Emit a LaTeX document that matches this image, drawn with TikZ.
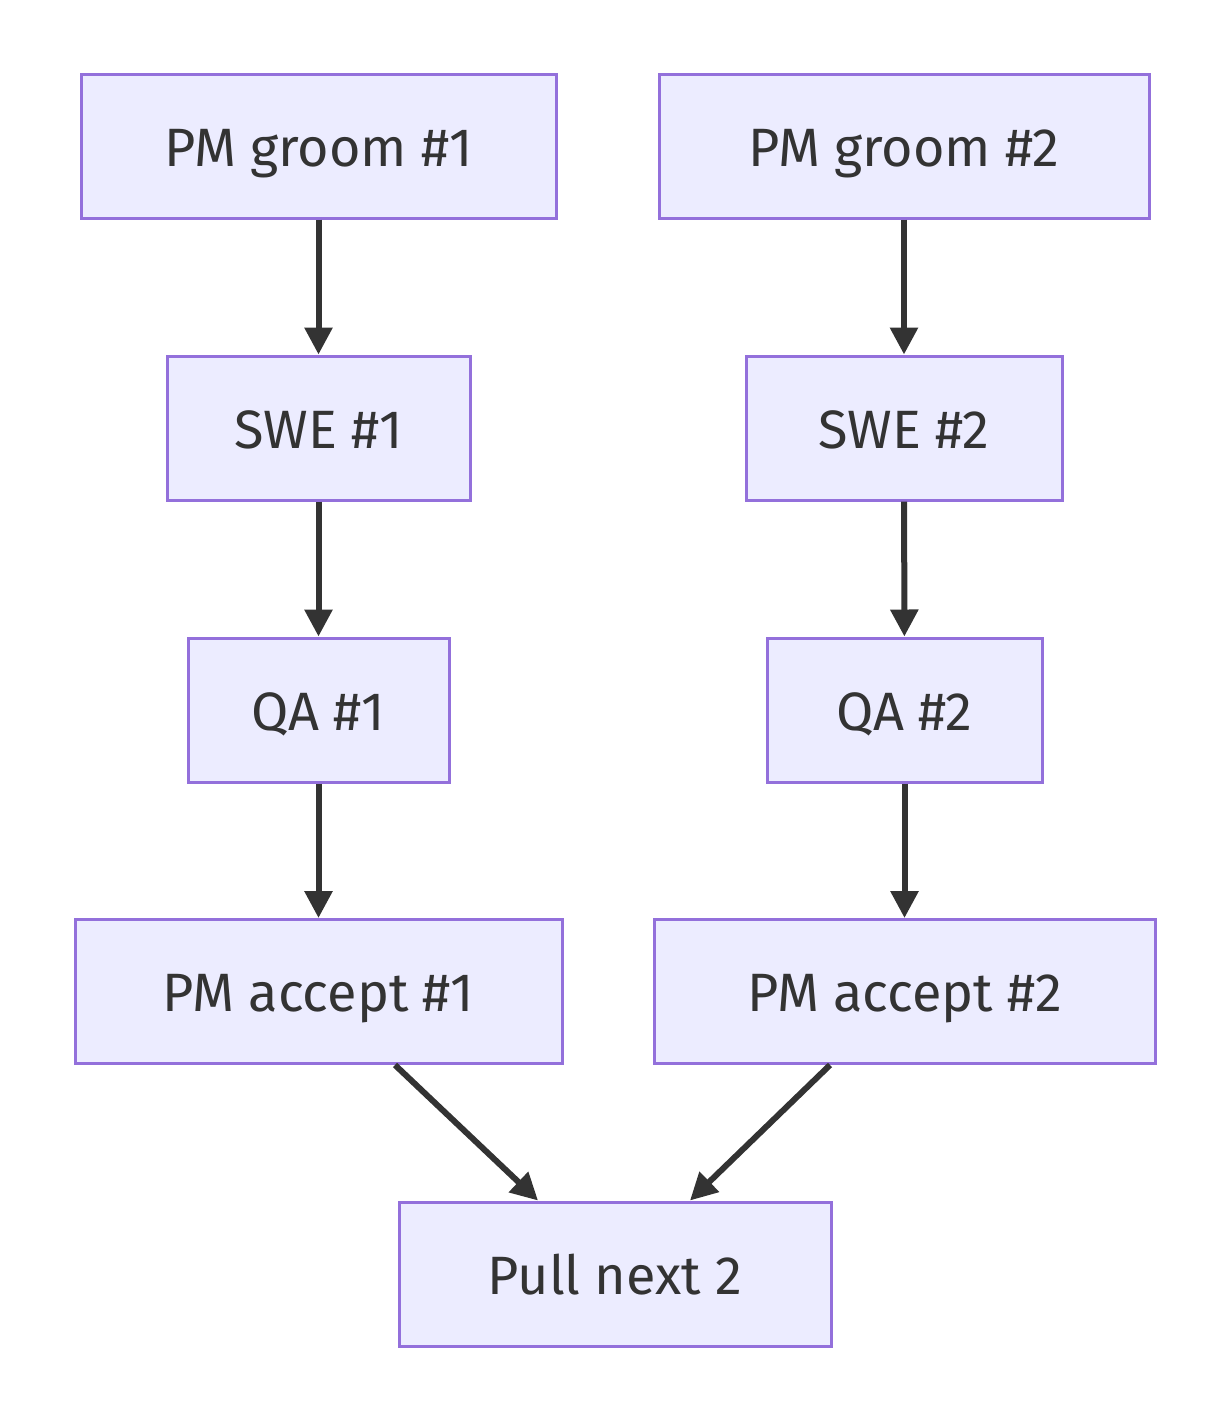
\documentclass[tikz,border=0pt]{standalone}
\usepackage{fontspec}
\setmainfont{Fira Sans}
\usetikzlibrary{arrows.meta}
\definecolor{boxfill}{HTML}{ECECFF}
\definecolor{boxline}{HTML}{9370DB}
\definecolor{ink}{HTML}{333333}
\tikzset{
  flowbox/.style={draw=boxline, fill=boxfill, line width=3pt, inner sep=0pt,
    text=ink, font=\fontsize{54}{60}\selectfont, minimum height=144pt,
    text height=40pt, text depth=0pt, anchor=center},
  flowarrow/.style={draw=ink, line width=6pt, -{Triangle[width=27pt,length=27pt]}, shorten >=0pt}
}
\begin{document}
\begin{tikzpicture}[x=1pt,y=-1pt]
\useasboundingbox (0,0) rectangle (1224,1416);
\node[flowbox, minimum width=475pt] (g1) at (318.5,146) {PM groom \#1};
\node[flowbox, minimum width=490pt] (g2) at (904,146) {PM groom \#2};
\node[flowbox, minimum width=303pt] (s1) at (318.5,428) {SWE \#1};
\node[flowbox, minimum width=316pt] (s2) at (904,428) {SWE \#2};
\node[flowbox, minimum width=261pt] (q1) at (318.5,710) {QA \#1};
\node[flowbox, minimum width=275pt] (q2) at (904.5,710) {QA \#2};
\node[flowbox, minimum width=487pt] (a1) at (318.5,991.5) {PM accept \#1};
\node[flowbox, minimum width=501pt] (a2) at (904.5,991.5) {PM accept \#2};
\node[flowbox, minimum width=432pt] (p) at (615,1274) {Pull next 2};
\coordinate (a1out) at ([xshift=76.5pt]a1.south);
\coordinate (a2out) at ([xshift=-74.5pt]a2.south);
\coordinate (pin1) at ([xshift=-77pt]p.north);
\coordinate (pin2) at ([xshift=75pt]p.north);
\draw[flowarrow] (g1) -- (s1);
\draw[flowarrow] (s1) -- (q1);
\draw[flowarrow] (q1) -- (a1);
\draw[flowarrow] (g2) -- (s2);
\draw[flowarrow] (s2) -- (q2);
\draw[flowarrow] (q2) -- (a2);
\draw[flowarrow] (a1out) -- (pin1);
\draw[flowarrow] (a2out) -- (pin2);
\end{tikzpicture}
\end{document}
